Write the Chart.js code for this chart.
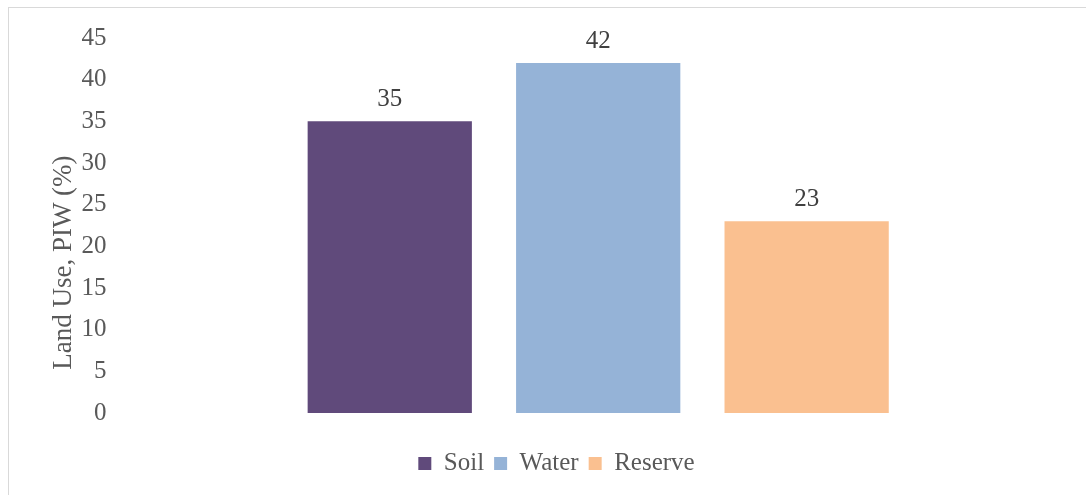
<!DOCTYPE html>
<html>
<head>
<meta charset="utf-8">
<script src="https://cdn.jsdelivr.net/npm/chart.js@4"></script>
<style>
  html, body { margin: 0; padding: 0; background: #fff; overflow: hidden; }
  body { width: 1086px; height: 495px; position: relative; }
  #wrap {
    position: absolute; left: 8px; top: 7px;
    width: 1096px; height: 488px;
    border-top: 1px solid #d9d9d9; border-left: 1px solid #d9d9d9;
  }
</style>
</head>
<body>
<div id="wrap"><canvas id="chart"></canvas></div>
<script>
const categories = [""];
const seriesNames = ["Soil", "Water", "Reserve"];
const soilValues = [35];
const waterValues = [42];
const reserveValues = [23];
const yTicks = [0, 5, 10, 15, 20, 25, 30, 35, 40, 45];
const yTitle = "Land Use, PIW (%)";

const colors = ["#604a7b", "#95b3d7", "#fac090"];
const serif = "'Liberation Serif', 'DejaVu Serif', serif";

const barLabels = {
  id: "barLabels",
  afterDatasetsDraw(chart) {
    const ctx = chart.ctx;
    ctx.save();
    ctx.font = "25px " + serif;
    ctx.fillStyle = "#404040";
    ctx.textAlign = "center";
    ctx.textBaseline = "bottom";
    chart.data.datasets.forEach((ds, i) => {
      chart.getDatasetMeta(i).data.forEach((bar, j) => {
        ctx.fillText(ds.data[j], bar.x, bar.y - 9);
      });
    });
    ctx.restore();
  }
};

new Chart(document.getElementById("chart").getContext("2d"), {
  type: "bar",
  data: {
    labels: categories,
    datasets: [
      { label: seriesNames[0], data: soilValues, backgroundColor: colors[0] },
      { label: seriesNames[1], data: waterValues, backgroundColor: colors[1] },
      { label: seriesNames[2], data: reserveValues, backgroundColor: colors[2] },
    ],
  },
  options: {
    responsive: true,
    maintainAspectRatio: false,
    animation: false,
    layout: { padding: { top: 30, right: 28, bottom: 10, left: 27 } },
    datasets: { bar: { categoryPercentage: 0.653, barPercentage: 0.788 } },
    scales: {
      x: {
        display: true,
        grid: { display: false },
        border: { display: false },
        ticks: { display: false },
        afterFit: (axis) => { axis.height = 28; },
      },
      y: {
        min: 0,
        max: 45,
        afterBuildTicks: (axis) => { axis.ticks = yTicks.map(v => ({ value: v })); },
        grid: { display: false },
        border: { display: false },
        ticks: { color: "#595959", font: { family: serif, size: 25 }, padding: 5 },
        title: {
          display: true,
          // trailing no-break spaces push the centred title down, as in the original
          text: yTitle + "\u00a0".repeat(11),
          color: "#595959",
          font: { family: serif, size: 27 },
          padding: { top: 12, bottom: -4 },
        },
      },
    },
    plugins: {
      legend: {
        position: "bottom",
        labels: {
          color: "#595959",
          font: { family: serif, size: 25 },
          boxWidth: 13,
          boxHeight: 13,
          padding: 10,
        },
      },
      tooltip: { enabled: false },
    },
  },
  plugins: [barLabels],
});
</script>
</body>
</html>
